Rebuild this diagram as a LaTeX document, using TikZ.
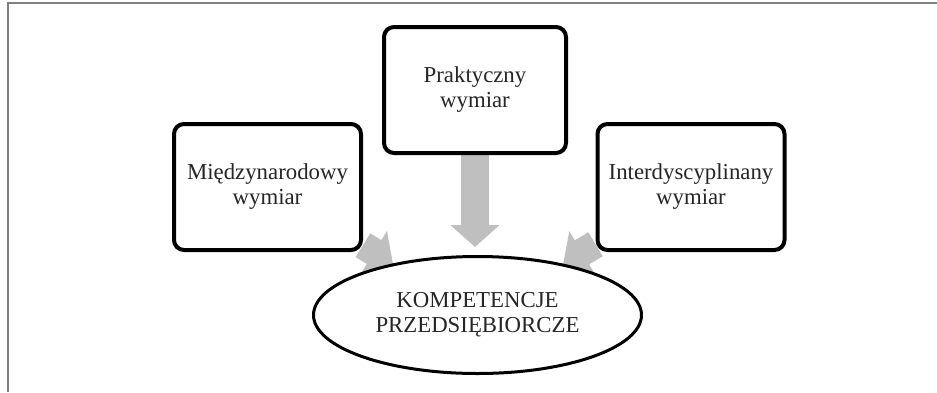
\documentclass[tikz,border=0pt]{standalone}
\usepackage{fontspec}
\setmainfont{Liberation Serif}
\usetikzlibrary{shapes.geometric,arrows.meta,backgrounds}

\tikzstyle{dimbox}=[draw=black,line width=2pt,rounded corners=5pt,fill=white,minimum height=63pt,align=center,text=black!85,font=\fontsize{11.4}{12.5}\selectfont]
\tikzstyle{goalnode}=[ellipse,draw=black,line width=1.5pt,fill=white,minimum width=164pt,minimum height=58.5pt,inner sep=0pt,align=center,text=black!85,font=\fontsize{11.4}{12.5}\selectfont]
\tikzstyle{blockarrow}=[draw=black!25,line width=14pt,-{Triangle[width=24pt,length=11pt,fill=black!25]}]

\begin{document}
\begin{tikzpicture}[x=0.5pt,y=-0.5pt]
			\useasboundingbox (0,0) rectangle (937,392);
			\draw[gray,line width=1pt] (8,392) -- (8,3) -- (937,3);
			\node[goalnode] (goal) at (477.5,315) {KOMPETENCJE\\PRZEDSIĘBIORCZE};
			\node[dimbox,minimum width=91pt] (mid) at (475,90) {Praktyczny\\wymiar};
			\node[dimbox,minimum width=93.5pt] (left) at (267.5,187) {Międzynarodowy\\wymiar};
			\node[dimbox,minimum width=93.5pt] (right) at (691,187) {Interdyscyplinany\\wymiar};
			% The arrows go behind the nodes
			\begin{scope}[on background layer]
			\draw[blockarrow,shorten >=4pt] (mid.south) -- (mid.south |- goal.north);
			\draw[blockarrow] (left) -- (goal);
			\draw[blockarrow] (right) -- (goal);
			\end{scope}
\end{tikzpicture}
\end{document}
